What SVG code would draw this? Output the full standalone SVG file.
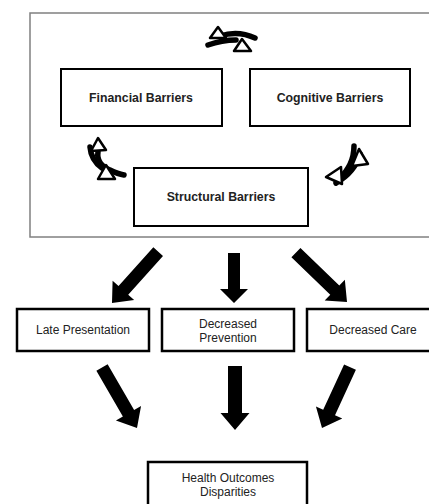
<svg xmlns="http://www.w3.org/2000/svg" width="429" height="504" viewBox="0 0 429 504">
<style>
.frame{fill:none;stroke:#808080;stroke-width:1.5}
.box{fill:#fff;stroke:#000;stroke-width:2}
.box2{fill:#fff;stroke:#000;stroke-width:2.5}
.lb{font-family:"Liberation Sans",Arial,sans-serif;font-size:12.3px;font-weight:bold;fill:#222;text-anchor:middle}
.lr{font-family:"Liberation Sans",Arial,sans-serif;font-size:12px;fill:#222;text-anchor:middle}
.arc{fill:none;stroke:#000;stroke-width:5.5;stroke-linecap:round}
.tri{fill:#fff;stroke:#000;stroke-width:2.5;stroke-linejoin:round}
.blk{fill:#000}
</style>
<rect class="frame" x="30" y="13" width="402" height="224"/>
<g id="financial"><rect class="box" x="61" y="69" width="161" height="57"/><text class="lb" x="141" y="102">Financial Barriers</text></g>
<g id="cognitive"><rect class="box" x="250" y="69" width="160" height="57"/><text class="lb" x="330" y="102">Cognitive Barriers</text></g>
<g id="structural"><rect class="box" x="134" y="168" width="174" height="58"/><text class="lb" x="221" y="201">Structural Barriers</text></g>
<g id="late"><rect class="box2" x="17" y="309" width="132" height="42"/><text class="lr" x="83" y="334">Late Presentation</text></g>
<g id="prevention"><rect class="box2" x="162" y="309" width="132" height="42"/><text class="lr" x="228" y="328">Decreased</text><text class="lr" x="228" y="342">Prevention</text></g>
<g id="care"><rect class="box2" x="307" y="309" width="126" height="42"/><text class="lr" x="373" y="334">Decreased Care</text></g>
<g id="health"><rect class="box2" x="148" y="462" width="159" height="50"/><text class="lr" x="228" y="482">Health Outcomes</text><text class="lr" x="228" y="496">Disparities</text></g>
<g id="connectors">
<g id="cycle-top">
<path class="arc" d="M220,36 Q238,30 255,38"/>
<path class="arc" d="M208,45 Q222,40 236,40"/>
<polygon class="tri" points="218,27 226,38 210,38"/>
<polygon class="tri" points="242,39 251,51 234,51"/>
</g>
<g id="cycle-left">
<path class="arc" d="M98,152 Q96,164 110,170 Q118,174 124,175"/>
<path class="arc" d="M90,147 Q91,160 102,168"/>
<polygon class="tri" points="98,138 106,150 91,151"/>
<polygon class="tri" points="106,165 115,179 98,179"/>
</g>
<g id="cycle-right">
<path class="arc" d="M354,146 Q354,165 339,179"/>
<path class="arc" d="M360,154 Q355,172 336,183"/>
<polygon class="tri" points="359,149 368,164 352,166"/>
<polygon class="tri" points="326,177 341,167 342,184"/>
</g>
<path class="blk" transform="translate(112,303) rotate(42)" d="M0,0 L-14.5,-17 L-6.5,-17 L-6.5,-69 L6.5,-69 L6.5,-17 L14.5,-17 Z"/>
<path class="blk" transform="translate(234,303)" d="M0,0 L-14,-14 L-6,-14 L-6,-50 L6,-50 L6,-14 L14,-14 Z"/>
<path class="blk" transform="translate(347,302) rotate(-46)" d="M0,0 L-14.5,-17 L-6.5,-17 L-6.5,-71 L6.5,-71 L6.5,-17 L14.5,-17 Z"/>
<path class="blk" transform="translate(137,428) rotate(-30)" d="M0,0 L-14.5,-17 L-6.5,-17 L-6.5,-70 L6.5,-70 L6.5,-17 L14.5,-17 Z"/>
<path class="blk" transform="translate(235,430)" d="M0,0 L-14.5,-17 L-7,-17 L-7,-64 L7,-64 L7,-17 L14.5,-17 Z"/>
<path class="blk" transform="translate(322,428) rotate(24.7)" d="M0,0 L-14.5,-17 L-6.5,-17 L-6.5,-67 L6.5,-67 L6.5,-17 L14.5,-17 Z"/>
</g>
</svg>
